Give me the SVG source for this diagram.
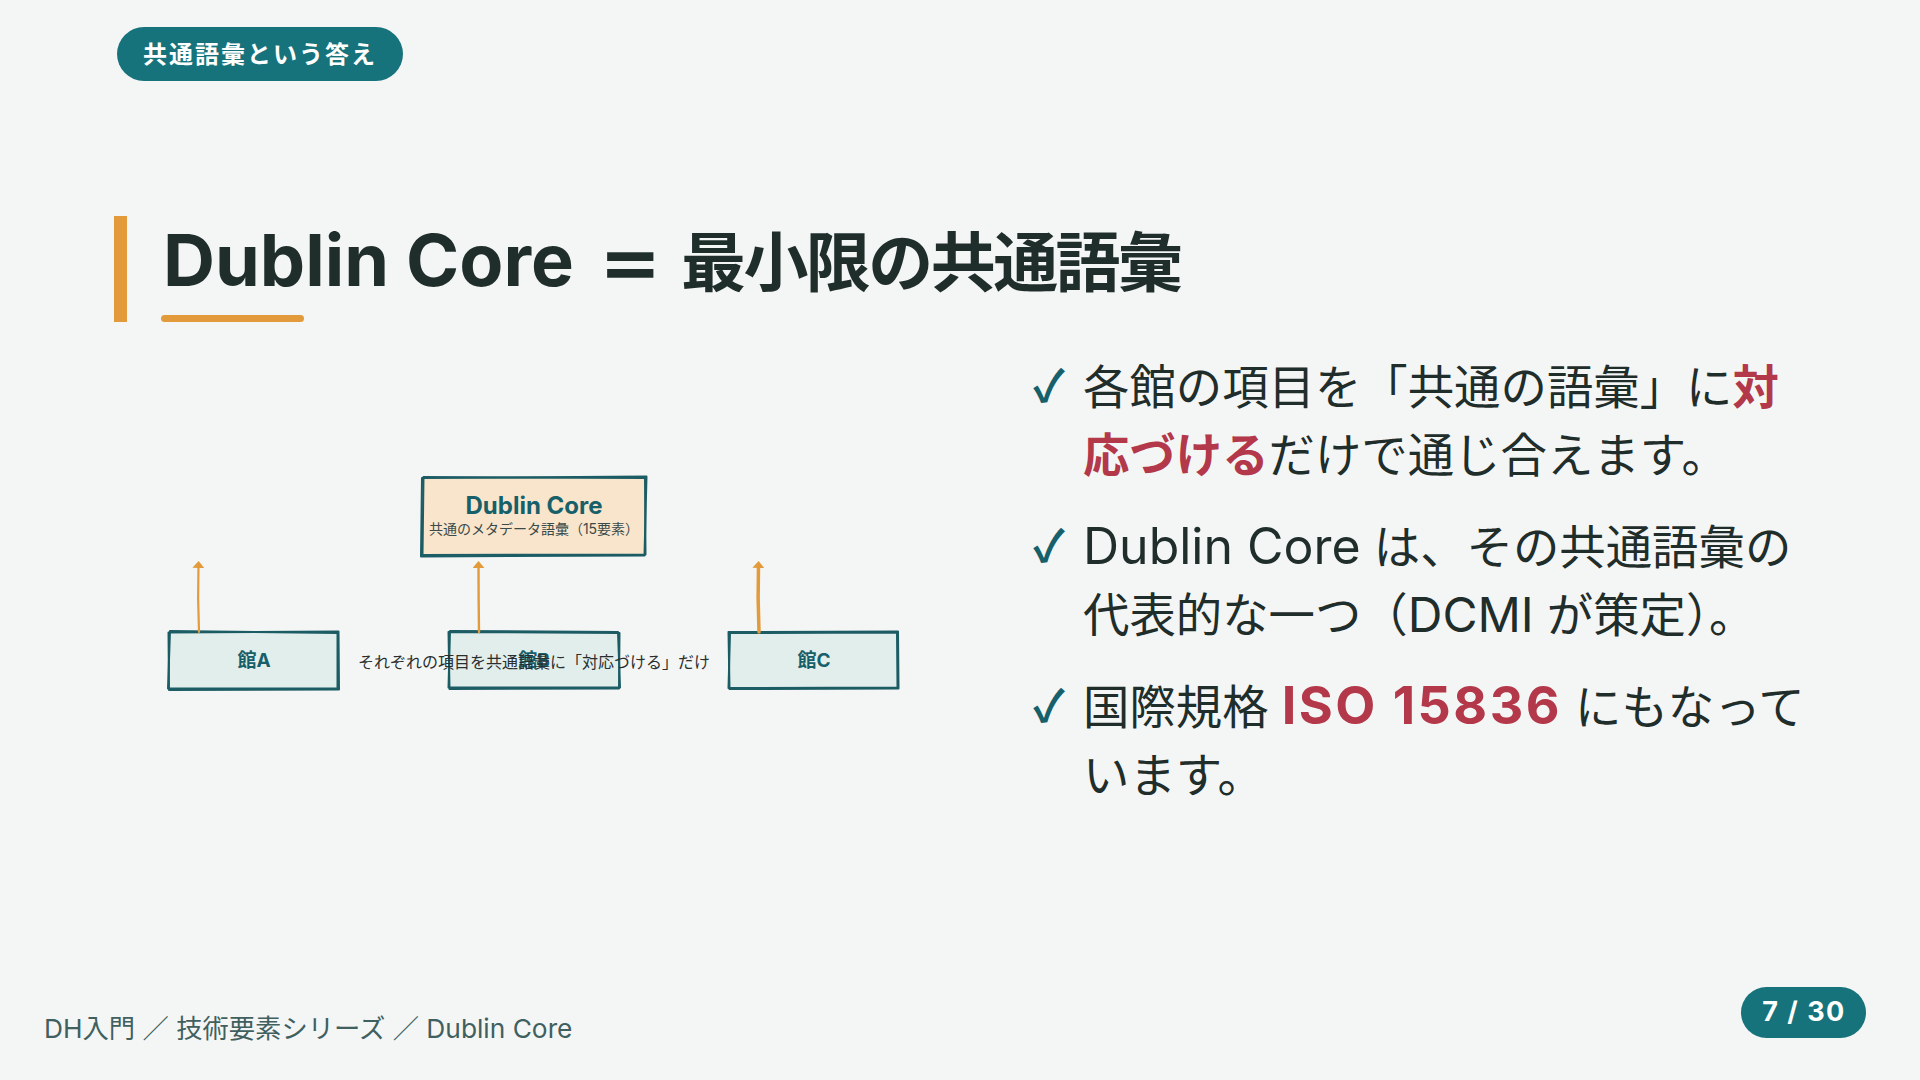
<svg xmlns="http://www.w3.org/2000/svg" width="1920" height="1080" viewBox="0 0 1920 1080">
<style>
.sans{font-family:Inter,"Noto Sans CJK JP",sans-serif}
.pilltxt{font-family:Inter,"Noto Sans CJK JP",sans-serif;font-weight:700;fill:#ffffff}
.body{font-family:Inter,"Noto Sans CJK JP",sans-serif;font-size:46.4px;fill:#1f2d2b}
.red{fill:#b3384a;font-weight:700}
.lat{font-size:50px}
.check{font-family:"Noto Sans CJK JP","DejaVu Sans",sans-serif;font-size:44px;font-weight:700;fill:#16606b}
.sk{fill:none;stroke:#1c5c64;stroke-width:2;stroke-linejoin:round}
.lbl{font-family:Inter,"Noto Sans CJK JP",sans-serif;font-weight:700;fill:#17606a;text-anchor:middle}
.arr{fill:none;stroke:#e39a3a;stroke-linecap:round}
</style>
<defs>
<marker id="ah" viewBox="0 0 7 12" refX="3" refY="6" markerWidth="7" markerHeight="12" markerUnits="userSpaceOnUse" orient="auto">
<path d="M0,0 L7,6 L0,12 Z" fill="#e39a3a"/>
</marker>
</defs>
<rect width="1920" height="1080" fill="#f4f6f5"/>

<g id="tag">
<rect x="117" y="27" width="286" height="54" rx="27" fill="#16737c"/>
<text class="pilltxt" x="260" y="63" font-size="24" letter-spacing="2" text-anchor="middle">共通語彙という答え</text>
</g>

<g id="title">
<rect x="114" y="216" width="13" height="106" fill="#e39a3a"/>
<text class="sans" x="163" y="286" font-size="72" font-weight="700" fill="#1f2d2b">Dublin Core</text>
<text class="sans" font-size="72" font-weight="700" fill="#1f2d2b" transform="translate(598,286) scale(1.32,1)">=</text>
<text class="sans" x="681" y="286" font-size="65" font-weight="700" fill="#1f2d2b" textLength="502" lengthAdjust="spacing">最小限の共通語彙</text>
<rect x="161" y="315" width="143" height="7" rx="3.5" fill="#e39a3a"/>
</g>

<g id="diagram">
<g id="node-dc">
<rect x="422" y="477" width="224" height="79" fill="#f8e5cc"/>
<path class="sk" d="M422,478 L646.5,476.5 L644.5,555.5 L421,556.5 Z"/>
<path class="sk" d="M423.5,477 L645,478 L645.5,554.5 L422.5,555 Z"/>
<text class="lbl" x="534" y="514" font-size="24">Dublin Core</text>
<text class="sans" x="534" y="534" font-size="14" fill="#3b4a48" text-anchor="middle">共通のメタデータ語彙（15要素）</text>
</g>
<g id="node-a">
<rect x="169" y="632" width="169" height="57" fill="#e1eeec"/>
<path class="sk" d="M168.5,632.5 L338.5,631.5 L339,689.5 L169,690 Z"/>
<path class="sk" d="M170,631 L337.5,633 L337.5,688.5 L168,688.5 Z"/>
<text class="lbl" x="254" y="667" font-size="19">館A</text>
</g>
<g id="node-b">
<rect x="449" y="632" width="170" height="56" fill="#e1eeec"/>
<path class="sk" d="M448.5,632 L619.5,633 L619,688.5 L449.5,689 Z"/>
<path class="sk" d="M450,631 L618,632 L620,687.5 L448.5,687.5 Z"/>
<text class="lbl" x="534" y="667" font-size="19">館B</text>
</g>
<g id="node-c">
<rect x="729" y="632" width="169" height="56" fill="#e1eeec"/>
<path class="sk" d="M728.5,632 L898,631.5 L898.5,688.5 L729.5,689 Z"/>
<path class="sk" d="M730,633 L897,632.5 L897.5,687.5 L728.5,688 Z"/>
<text class="lbl" x="814" y="667" font-size="19">館C</text>
</g>
<g id="connectors">
<path class="arr" stroke-width="2.2" d="M199,632 Q197.5,598 198.5,565" marker-end="url(#ah)"/>
<path class="arr" stroke-width="2.4" d="M479,632 Q478.5,598 478.5,565" marker-end="url(#ah)"/>
<path class="arr" stroke-width="3.5" d="M759,632 Q757.5,598 758.5,565" marker-end="url(#ah)"/>
</g>
<text id="caption" class="sans" x="534" y="668" font-size="16" fill="#2a2f2e" text-anchor="middle">それぞれの項目を共通語彙に「対応づける」だけ</text>
</g>

<g id="bullets">
<text class="check" x="1033" y="402">✓</text>
<text class="body" x="1083" y="404">各館の項目を「共通の語彙」に<tspan class="red">対</tspan></text>
<text class="body" x="1083" y="472"><tspan class="red">応づける</tspan>だけで通じ合えます。</text>
<text class="check" x="1033" y="562">✓</text>
<text class="body" x="1083" y="564"><tspan class="lat">Dublin Core</tspan> は、その共通語彙の</text>
<text class="body" x="1083" y="632">代表的な一つ（<tspan font-size="48">DCMI</tspan> が策定）。</text>
<text class="check" x="1033" y="722">✓</text>
<text class="body" x="1083" y="724">国際規格 <tspan class="red" font-size="52" letter-spacing="2.5">ISO 15836</tspan> にもなって</text>
<text class="body" x="1083" y="792">います。</text>
</g>

<g id="footer">
<text class="sans" x="44" y="1038" font-size="26.3" fill="#40605f">DH入門 ／ 技術要素シリーズ ／ Dublin Core</text>
<rect x="1741" y="987" width="125" height="51" rx="25.5" fill="#16737c"/>
<text class="pilltxt" x="1804" y="1021" font-size="27" letter-spacing="1.5" text-anchor="middle">7 / 30</text>
</g>
</svg>
